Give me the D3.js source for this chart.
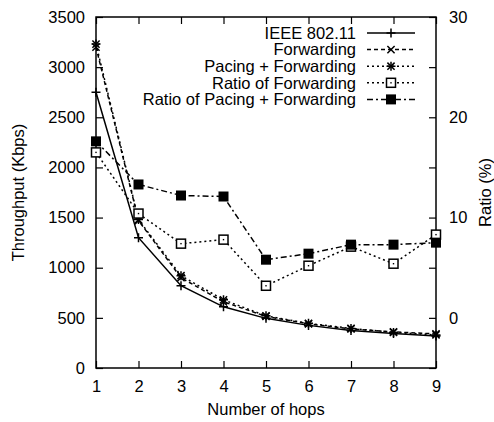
<!DOCTYPE html>
<html>
<head>
<meta charset="utf-8">
<script src="https://cdn.jsdelivr.net/npm/d3@7"></script>
<style>
  body { margin: 0; background: #fff; }
  svg { color: #000; }
  svg text { font-family: "Liberation Sans", Arial, sans-serif; fill: #000; }
</style>
</head>
<body>
<svg id="chart" width="494" height="422"></svg>
<script>
const hops = [1, 2, 3, 4, 5, 6, 7, 8, 9];
const ieee = [2750, 1300, 820, 610, 495, 425, 375, 345, 320];
const forwarding = [3200, 1470, 900, 660, 515, 440, 390, 360, 340];
const pacingForwarding = [3230, 1480, 920, 680, 520, 445, 395, 355, 330];
const ratioForwarding = [16.5, 10.4, 7.4, 7.8, 3.2, 5.2, 7.1, 5.4, 8.3];
const ratioPacingForwarding = [17.6, 13.3, 12.2, 12.1, 5.8, 6.4, 7.3, 7.3, 7.5];

const leftTicks = [0, 500, 1000, 1500, 2000, 2500, 3000, 3500];
const rightTicks = [0, 10, 20, 30];
const rightMinor = [-5, 5, 15, 25];

const series = [
  { name: "IEEE 802.11", values: ieee, axis: "left", dash: null, marker: "plus" },
  { name: "Forwarding", values: forwarding, axis: "left", dash: "4,3", marker: "cross" },
  { name: "Pacing + Forwarding", values: pacingForwarding, axis: "left", dash: "2,3", marker: "star" },
  { name: "Ratio of Forwarding", values: ratioForwarding, axis: "right", dash: "2,3", marker: "box" },
  { name: "Ratio of Pacing + Forwarding", values: ratioPacingForwarding, axis: "right", dash: "6,3,2,3", marker: "fbox" },
];

const svg = d3.select("#chart");
const margin = { left: 96, right: 58, top: 17, bottom: 54 };
const width = 494, height = 422;
const fontSize = 16.5;
const x = d3.scaleLinear().domain([1, 9]).range([margin.left, width - margin.right]);
const y = d3.scaleLinear().domain([0, 3500]).range([height - margin.bottom, margin.top]);
const y2 = d3.scaleLinear().domain([-5, 30]).range([height - margin.bottom, margin.top]);

const tick = 7;

// axes
const xAxis = svg.append("g")
  .attr("transform", `translate(0,${y.range()[0]})`)
  .call(d3.axisBottom(x).tickValues(hops).tickFormat(d3.format("d")).tickSize(-tick).tickPadding(12));
const xTop = svg.append("g")
  .attr("transform", `translate(0,${margin.top})`)
  .call(d3.axisTop(x).tickValues(hops).tickSize(-tick).tickFormat(""));
const yAxis = svg.append("g")
  .attr("transform", `translate(${margin.left},0)`)
  .call(d3.axisLeft(y).tickValues(leftTicks).tickFormat(d3.format("d")).tickSize(-tick).tickPadding(11));
const y2Axis = svg.append("g")
  .attr("transform", `translate(${x.range()[1]},0)`)
  .call(d3.axisRight(y2).tickValues(rightTicks).tickFormat(d3.format("d")).tickSize(-tick).tickPadding(13));
const y2Minor = svg.append("g")
  .attr("transform", `translate(${x.range()[1]},0)`)
  .call(d3.axisRight(y2).tickValues(rightMinor).tickSize(-tick).tickFormat(""));

[xAxis, xTop, yAxis, y2Axis, y2Minor].forEach((g) => {
  g.select(".domain").remove();
  g.selectAll("line").attr("stroke", "#000").attr("stroke-width", 1.2);
  g.selectAll("text").attr("font-size", fontSize).attr("fill", "#000")
    .style("font-family", "Liberation Sans, Arial, sans-serif");
});

// frame
svg.append("rect")
  .attr("x", x.range()[0]).attr("y", margin.top)
  .attr("width", x.range()[1] - x.range()[0])
  .attr("height", y.range()[0] - margin.top)
  .attr("fill", "none").attr("stroke", "#000").attr("stroke-width", 1.5);

// axis labels
svg.append("text").attr("x", (x.range()[0] + x.range()[1]) / 2).attr("y", 415)
  .attr("text-anchor", "middle").attr("font-size", fontSize).text("Number of hops");
svg.append("text").attr("transform", `translate(24,${(margin.top + y.range()[0]) / 2}) rotate(-90)`)
  .attr("text-anchor", "middle").attr("font-size", fontSize).text("Throughput (Kbps)");
svg.append("text").attr("transform", `translate(491,${(margin.top + y.range()[0]) / 2}) rotate(-90)`)
  .attr("text-anchor", "middle").attr("font-size", fontSize).text("Ratio (%)");

function drawMarker(g, type, cx, cy) {
  const s = 4.5;
  const st = (sel) => sel.attr("stroke", "#000").attr("stroke-width", 1.5).attr("fill", "none");
  if (type === "plus" || type === "star") {
    st(g.append("path").attr("d", `M${cx - s},${cy}H${cx + s}M${cx},${cy - s}V${cy + s}`));
  }
  if (type === "cross" || type === "star") {
    const c = 3.6;
    st(g.append("path").attr("d", `M${cx - c},${cy - c}L${cx + c},${cy + c}M${cx - c},${cy + c}L${cx + c},${cy - c}`));
  }
  if (type === "box") {
    st(g.append("rect").attr("x", cx - 4.5).attr("y", cy - 4.5).attr("width", 9).attr("height", 9))
      .attr("fill", "#fff");
    g.append("rect").attr("x", cx - 0.7).attr("y", cy - 0.7).attr("width", 1.4).attr("height", 1.4).attr("fill", "#000");
  }
  if (type === "fbox") {
    g.append("rect").attr("x", cx - 5).attr("y", cy - 5).attr("width", 10).attr("height", 10).attr("fill", "#000");
  }
}

const plot = svg.append("g");
series.forEach((s) => {
  const sc = s.axis === "left" ? y : y2;
  const line = d3.line().x((d, i) => x(hops[i])).y((d) => sc(d));
  plot.append("path").datum(s.values).attr("d", line)
    .attr("fill", "none").attr("stroke", "#000").attr("stroke-width", 1.5)
    .attr("stroke-dasharray", s.dash);
  const mg = plot.append("g");
  s.values.forEach((v, i) => drawMarker(mg, s.marker, x(hops[i]), sc(v)));
});

// legend
const legend = svg.append("g");
series.forEach((s, i) => {
  const ly = 33 + i * 16.6;
  legend.append("text").attr("x", 356).attr("y", ly).attr("dy", "0.35em")
    .attr("text-anchor", "end").attr("font-size", fontSize).text(s.name);
  legend.append("line").attr("x1", 367).attr("x2", 415).attr("y1", ly).attr("y2", ly)
    .attr("stroke", "#000").attr("stroke-width", 1.5).attr("stroke-dasharray", s.dash);
  drawMarker(legend, s.marker, 391, ly);
});
</script>
</body>
</html>
